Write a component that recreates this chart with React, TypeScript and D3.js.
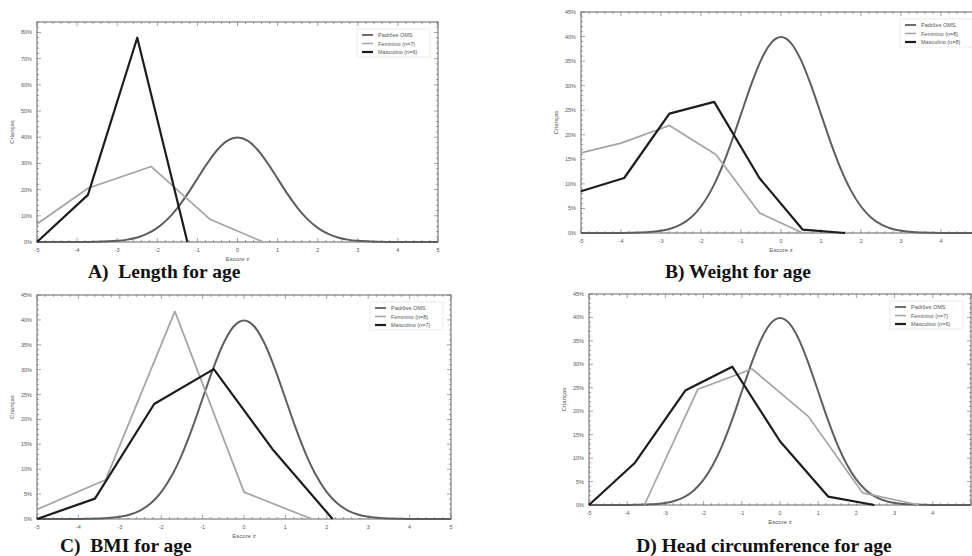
import React, { useEffect, useRef } from 'react';
import * as d3 from 'd3';

// z-scores and % of children
const zTicks = [-5, -4, -3, -2, -1, 0, 1, 2, 3, 4, 5];

// WHO reference curve (Padrões OMS), same in all four panels
const whoCurve: [number, number][] = [
  [-5, 0], [-4, 0.01], [-3.5, 0.09], [-3, 0.44], [-2.75, 0.91], [-2.5, 1.75], [-2.25, 3.17],
  [-2, 5.4], [-1.75, 8.63], [-1.5, 12.95], [-1.25, 18.26], [-1, 24.2], [-0.75, 30.11],
  [-0.5, 35.21], [-0.25, 38.67], [0, 39.89], [0.25, 38.67], [0.5, 35.21], [0.75, 30.11],
  [1, 24.2], [1.25, 18.26], [1.5, 12.95], [1.75, 8.63], [2, 5.4], [2.25, 3.17], [2.5, 1.75],
  [2.75, 0.91], [3, 0.44], [3.5, 0.09], [4, 0.01], [5, 0],
];

const lengthFem: [number, number][] = [[-5, 6.9], [-3.73, 20.5], [-2.15, 28.8], [-0.69, 8.7], [0.64, 0]];
const lengthMasc: [number, number][] = [[-5, 0], [-3.73, 18], [-2.5, 78], [-1.25, 0]];

const weightFem: [number, number][] = [[-5, 16.3], [-4, 18.3], [-2.79, 21.9], [-1.63, 16], [-0.54, 4.1], [0.54, 0]];
const weightMasc: [number, number][] = [[-5, 8.5], [-3.92, 11.2], [-2.79, 24.3], [-1.67, 26.7], [-0.54, 11.2], [0.54, 0.7], [1.6, 0]];

const bmiFem: [number, number][] = [[-5, 1.9], [-3.34, 7.9], [-1.67, 41.7], [0, 5.4], [1.64, 0]];
const bmiMasc: [number, number][] = [[-5, 0], [-3.6, 4.1], [-2.17, 23.1], [-0.73, 30.1], [0.71, 13.8], [2.14, 0]];

const headFem: [number, number][] = [[-3.55, 0], [-2.15, 24.7], [-0.73, 29], [0.74, 18.9], [2.16, 2.6], [3.64, 0]];
const headMasc: [number, number][] = [[-5, 0], [-3.81, 8.9], [-2.48, 24.4], [-1.25, 29.5], [0, 13.6], [1.26, 1.8], [2.47, 0]];

const seriesNames = ['Padrões OMS', 'Feminino', 'Masculino'];
const lengthN = ['n=7', 'n=6'];
const weightN = ['n=8', 'n=8'];
const bmiN = ['n=8', 'n=7'];
const headN = ['n=7', 'n=6'];

const panelTitles = ['A)  Length for age', 'B) Weight for age', 'C)  BMI for age', 'D) Head circumference for age'];

const colWho = '#5e5e5e';
const colFem = '#a3a3a3';
const colMasc = '#1c1c1c';

interface Panel {
  left: number; right: number; top: number; bottom: number;
  yMax: number; yStep: number; yMinor: number;
  fem: [number, number][]; masc: [number, number][]; n: string[];
  title: string; titleX: number; titleY: number; titleAnchor: string;
}

const panels: Panel[] = [
  { left: 37, right: 438, top: 22, bottom: 242, yMax: 84, yStep: 10, yMinor: 2,
    fem: lengthFem, masc: lengthMasc, n: lengthN, title: panelTitles[0], titleX: 88, titleY: 278, titleAnchor: 'start' },
  { left: 581, right: 981, top: 12, bottom: 233, yMax: 45, yStep: 5, yMinor: 1,
    fem: weightFem, masc: weightMasc, n: weightN, title: panelTitles[1], titleX: 738, titleY: 278, titleAnchor: 'middle' },
  { left: 37, right: 451, top: 295, bottom: 519, yMax: 45, yStep: 5, yMinor: 1,
    fem: bmiFem, masc: bmiMasc, n: bmiN, title: panelTitles[2], titleX: 60, titleY: 552, titleAnchor: 'start' },
  { left: 589, right: 971, top: 294, bottom: 505, yMax: 45, yStep: 5, yMinor: 1,
    fem: headFem, masc: headMasc, n: headN, title: panelTitles[3], titleX: 764, titleY: 552, titleAnchor: 'middle' },
];

function App() {
  const ref = useRef<SVGSVGElement>(null);

  useEffect(() => {
    const svg = d3.select(ref.current);
    svg.selectAll('*').remove();

    panels.forEach((p) => {
      const x = d3.scaleLinear().domain([-5, 5]).range([p.left, p.right]);
      const y = d3.scaleLinear().domain([0, p.yMax]).range([p.bottom, p.top]);
      const g = svg.append('g');

      // frame with ticks on all four sides
      const majY = d3.range(0, p.yMax + 0.001, p.yStep);
      const minY = d3.range(0, p.yMax + 0.001, p.yMinor);
      const minX = d3.range(-5, 5.001, 0.2);

      const tickG = g.append('g').attr('stroke', '#666').attr('stroke-width', 0.6);
      minX.forEach((v) => {
        const major = Math.abs(v - Math.round(v)) < 0.01;
        const len = major ? 4 : 2;
        tickG.append('line').attr('x1', x(v)).attr('x2', x(v)).attr('y1', p.bottom).attr('y2', p.bottom - len);
        tickG.append('line').attr('x1', x(v)).attr('x2', x(v)).attr('y1', p.top).attr('y2', p.top + len);
      });
      minY.forEach((v) => {
        const major = Math.abs(v / p.yStep - Math.round(v / p.yStep)) < 0.01;
        const len = major ? 4 : 2;
        tickG.append('line').attr('x1', p.left).attr('x2', p.left + len).attr('y1', y(v)).attr('y2', y(v));
        tickG.append('line').attr('x1', p.right).attr('x2', p.right - len).attr('y1', y(v)).attr('y2', y(v));
      });
      g.append('rect')
        .attr('x', p.left).attr('y', p.top)
        .attr('width', p.right - p.left).attr('height', p.bottom - p.top)
        .attr('fill', 'none').attr('stroke', '#555').attr('stroke-width', 0.9);

      // tick labels (the last one of the right panels falls outside the picture)
      g.selectAll('text.xt').data(zTicks.filter((d) => x(d) < 966)).enter().append('text')
        .attr('x', (d) => x(d)).attr('y', p.bottom + 10)
        .attr('text-anchor', 'middle')
        .attr('font-family', 'Liberation Sans, Arial').attr('font-size', 5.5).attr('fill', '#555')
        .text((d) => d);
      g.selectAll('text.yt').data(majY).enter().append('text')
        .attr('x', p.left - 5).attr('y', (d) => y(d) + 2)
        .attr('text-anchor', 'end')
        .attr('font-family', 'Liberation Sans, Arial').attr('font-size', 5.5).attr('fill', '#555')
        .text((d) => `${d}%`);

      // axis titles
      g.append('text')
        .attr('x', x(0)).attr('y', p.bottom + 19)
        .attr('text-anchor', 'middle')
        .attr('font-family', 'Liberation Sans, Arial').attr('font-size', 6).attr('fill', '#555')
        .text('Escore z');
      g.append('text')
        .attr('transform', `translate(${p.left - 23},${(p.top + p.bottom) / 2}) rotate(-90)`)
        .attr('text-anchor', 'middle')
        .attr('font-family', 'Liberation Sans, Arial').attr('font-size', 6).attr('fill', '#555')
        .text('Crianças');

      // lines
      const line = d3.line<[number, number]>().x((d) => x(d[0])).y((d) => y(d[1]));
      const smooth = d3.line<[number, number]>().x((d) => x(d[0])).y((d) => y(d[1])).curve(d3.curveMonotoneX);
      const plot = g.append('g').attr('fill', 'none').attr('stroke-linejoin', 'round');
      plot.append('path').attr('d', smooth(whoCurve)).attr('stroke', colWho).attr('stroke-width', 2);
      plot.append('path').attr('d', line(p.fem)).attr('stroke', colFem).attr('stroke-width', 1.7);
      plot.append('path').attr('d', line(p.masc)).attr('stroke', colMasc).attr('stroke-width', 2.2);

      // legend
      const lw = 73, lh = 28;
      const lx = p.right - 8 - lw, ly = p.top + 7;
      const leg = g.append('g').attr('transform', `translate(${lx},${ly})`);
      leg.append('rect').attr('width', lw).attr('height', lh)
        .attr('fill', '#fff').attr('stroke', '#ddd').attr('stroke-width', 0.6);
      const labels = [seriesNames[0], `${seriesNames[1]} (${p.n[0]})`, `${seriesNames[2]} (${p.n[1]})`];
      const cols = [colWho, colFem, colMasc];
      const widths = [1.8, 1.5, 2.2];
      labels.forEach((lab, i) => {
        const yy = 6 + i * 8.5;
        leg.append('line').attr('x1', 5).attr('x2', 16).attr('y1', yy).attr('y2', yy)
          .attr('stroke', cols[i]).attr('stroke-width', widths[i]);
        leg.append('text').attr('x', 21).attr('y', yy + 2)
          .attr('font-family', 'Liberation Sans, Arial').attr('font-size', 5.5).attr('fill', '#555')
          .text(lab);
      });

      // panel title
      svg.append('text')
        .attr('x', p.titleX).attr('y', p.titleY)
        .attr('text-anchor', p.titleAnchor)
        .attr('font-family', 'Liberation Serif, Times New Roman, serif')
        .attr('font-weight', 'bold').attr('font-size', 19.5).attr('fill', '#111')
        .style('white-space', 'pre')
        .text(p.title);
    });
  }, []);

  return (
    <svg ref={ref} width={972} height={556}
      style={{ position: 'absolute', left: 0, top: 0, background: '#fff', overflow: 'hidden' }} />
  );
}

export default App;
